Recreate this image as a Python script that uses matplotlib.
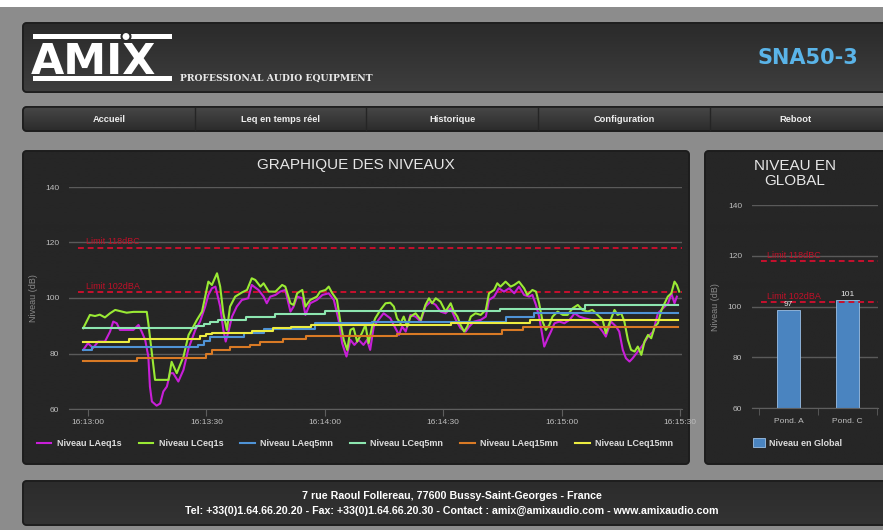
import numpy as np
import matplotlib
matplotlib.use("Agg")
import matplotlib.pyplot as plt
from matplotlib.patches import FancyBboxPatch, Rectangle, Circle

W, H = 883, 530
plt.rcParams['font.family'] = ['Liberation Sans', 'DejaVu Sans']

# ---- data (seconds after 16:13:00, level in dB) ----
t_laeq1s = [-1.2, 0.0, 1.3, 2.6, 4.3, 5.6, 6.4, 7.3, 8.1, 9.8, 11.5, 12.8, 13.6, 14.5, 15.3, 15.7,
            16.2, 17.4, 18.3, 19.1, 20.0, 20.8, 21.6, 22.9, 24.2, 25.5, 27.2, 28.4, 29.7, 30.5, 31.4,
            32.3, 33.5, 34.3, 34.9, 35.7, 36.5, 37.7, 39.0, 40.6, 41.5, 43.2, 44.5, 45.3, 46.2, 47.5,
            48.7, 50.0, 51.3, 52.1, 53.0, 54.3, 55.1, 56.3, 58.0, 59.4, 61.0, 62.3, 63.5, 64.4, 65.5,
            66.5, 67.5, 68.6, 69.8, 70.7, 71.5, 72.4, 73.6, 74.9, 76.6, 77.9, 78.8, 79.6, 80.5, 81.7,
            83.0, 84.3, 85.5, 86.8, 88.1, 89.3, 90.6, 91.9, 93.2, 94.4, 95.7, 96.6, 97.8, 99.5, 100.8,
            101.6, 102.9, 104.1, 105.4, 106.7, 108.0, 109.2, 110.5, 111.8, 112.6, 113.5, 114.3, 115.6,
            116.5, 117.3, 118.2, 119.4, 120.7, 122.0, 123.3, 124.5, 125.8, 127.5, 129.1, 130.4, 131.2,
            132.5, 133.8, 134.6, 135.5, 136.3, 137.2, 138.0, 139.3, 140.6, 141.9, 143.2, 144.4, 145.7,
            147.0, 147.8, 148.6, 149.2]
laeq1s = [81.3, 83.7, 82.0, 84.3, 84.3, 87.9, 91.5, 90.9, 88.5, 88.5, 88.5, 90.3, 87.9, 84.9, 78.9, 68.1,
          62.7, 61.2, 62.0, 66.3, 68.1, 72.9, 72.9, 69.9, 74.1, 81.9, 88.5, 91.5, 96.9, 101.1, 103.5,
          104.1, 96.9, 88.5, 84.3, 88.5, 93.3, 96.9, 99.3, 99.9, 104.7, 102.9, 100.5, 98.1, 100.5, 101.1,
          102.3, 102.9, 95.1, 96.9, 100.5, 99.9, 93.9, 98.1, 99.3, 101.1, 101.7, 99.3, 92.1, 83.7, 78.9,
          84.9, 83.1, 84.9, 83.1, 84.9, 81.3, 89.7, 92.1, 94.5, 92.7, 89.1, 86.7, 89.7, 87.9, 93.9,
          93.3, 91.5, 96.9, 98.7, 97.5, 95.1, 94.5, 96.3, 92.1, 89.1, 87.9, 89.7, 91.5, 92.1, 93.3,
          99.3, 100.5, 103.5, 102.3, 103.5, 101.7, 104.1, 101.1, 100.5, 101.1, 97.5, 93.3, 82.5,
          85.5, 87.9, 90.9, 91.5, 90.9, 92.1, 94.5, 93.3, 92.7, 92.1, 90.3, 87.9, 86.1,
          91.5, 89.7, 87.9, 81.3, 78.3, 77.1, 78.3, 80.7, 83.1, 86.1, 87.9, 94.5, 96.3,
          98.1, 101.7, 98.1, 100.5]

t_lceq1s = [-1.2, 0.5, 1.8, 3.0, 4.3, 5.6, 6.9, 8.1, 9.8, 11.5, 14.9, 15.3, 16.2, 17.0, 20.4, 21.2,
            22.5, 24.2, 25.5, 26.7, 27.6, 28.9, 29.7, 30.5, 31.4, 32.7, 33.5, 34.3, 35.2, 36.0, 37.3,
            39.0, 40.3, 41.5, 42.4, 43.7, 44.5, 45.8, 47.5, 49.2, 50.0, 51.3, 52.1, 53.0, 54.3, 55.1,
            56.3, 58.0, 58.8, 60.2, 61.0, 61.9, 63.1, 64.0, 64.8, 65.7, 66.5, 67.3, 68.2, 69.4, 70.3,
            71.1, 72.0, 72.8, 74.1, 75.4, 76.6, 77.5, 78.3, 79.2, 80.0, 80.9, 81.7, 83.0, 84.3, 85.5,
            86.4, 87.2, 88.1, 89.3, 90.6, 91.9, 92.7, 93.6, 94.4, 95.3, 96.1, 97.0, 98.2, 99.5, 100.8,
            101.6, 102.9, 103.7, 104.5, 105.8, 107.1, 108.0, 109.2, 110.5, 111.3, 112.6, 113.5, 114.3,
            115.2, 116.0, 116.9, 117.7, 119.0, 120.3, 121.5, 122.8, 124.1, 125.3, 126.6, 127.8, 129.1,
            130.4, 131.2, 132.1, 133.4, 134.2, 135.1, 135.9, 136.8, 137.6, 138.5, 139.3, 140.2, 141.0,
            141.9, 142.7, 143.6, 144.4, 145.3, 146.1, 146.9, 147.8, 148.6, 149.2, 149.8]
lceq1s = [89.1, 93.9, 93.5, 94.0, 93.0, 94.5, 95.7, 95.3, 94.7, 95.0, 95.0, 90.9, 80.0, 70.5, 70.5, 77.0,
          72.9, 78.9, 86.7, 89.7, 92.1, 95.1, 100.5, 105.9, 104.7, 108.9, 104.1, 94.5, 88.5, 96.9, 100.5,
          102.0, 102.9, 107.1, 106.5, 104.1, 105.3, 102.3, 102.3, 104.7, 104.1, 98.1, 97.5, 101.7, 102.9, 96.9,
          99.3, 100.5, 102.3, 102.9, 104.1, 101.7, 99.3, 90.9, 84.9, 81.3, 88.5, 89.1, 84.3, 87.3, 90.3,
          83.7, 89.7, 92.7, 95.7, 98.1, 98.3, 96.9, 92.7, 90.9, 93.3, 89.7, 93.3, 94.5, 92.1, 97.5,
          99.9, 98.1, 99.9, 98.7, 95.1, 98.1, 95.1, 93.3, 90.3, 87.9, 89.7, 93.3, 94.5, 93.9, 95.7,
          101.7, 102.9, 105.3, 104.1, 105.9, 104.1, 104.7, 105.9, 103.5, 101.1, 102.9, 102.3, 98.1,
          91.5, 88.5, 90.3, 93.3, 95.1, 93.9, 93.9, 96.3, 97.5, 95.7, 95.1, 95.7, 93.9,
          92.1, 87.3, 90.9, 95.7, 93.9, 94.5, 91.5, 84.9, 81.3, 80.7, 82.5, 79.5, 84.3,
          86.7, 85.5, 89.7, 90.9, 95.7, 98.1, 100.5, 101.7, 105.9, 104.7, 102.3]

# running averages: time of each step and new level
t_laeq5mn = [-1.2, 1.0, 28.0, 29.5, 31.0, 39.5, 44.5, 57.5, 72.0, 106.0, 113.0]
laeq5mn = [81.3, 82.2, 83.1, 84.5, 86.1, 87.3, 88.7, 91.1, 91.5, 93.1, 94.5]

t_lceq5mn = [-1.2, 27.5, 29.5, 31.0, 33.0, 40.0, 47.5, 60.0, 104.5, 126.0]
lceq5mn = [89.1, 89.9, 90.7, 91.5, 92.1, 93.3, 94.4, 95.2, 96.2, 97.3]

t_laeq15mn = [-1.2, 12.5, 30.0, 31.5, 36.0, 41.0, 43.6, 49.3, 55.2, 78.2, 104.8, 110.3]
laeq15mn = [77.3, 78.3, 79.8, 81.3, 82.3, 83.1, 84.1, 85.2, 86.2, 87.0, 88.5, 89.5]

t_lceq15mn = [-1.2, 10.3, 28.5, 30.0, 31.5, 41.5, 46.8, 51.5, 56.5, 92.0, 112.0]
lceq15mn = [84.3, 85.1, 86.2, 86.9, 87.3, 88.2, 89.1, 89.7, 90.3, 91.1, 92.1]
t_end = 149.5

series_names = ['Niveau LAeq1s', 'Niveau LCeq1s', 'Niveau LAeq5mn',
                'Niveau LCeq5mn', 'Niveau LAeq15mn', 'Niveau LCeq15mn']
series_colors = ['#c81fd8', '#9aea34', '#4f93d6', '#8de6b0', '#d97a25', '#ecec40']

x_ticks = [0, 30, 60, 90, 120, 150]
x_tick_labels = ['16:13:00', '16:13:30', '16:14:00', '16:14:30', '16:15:00', '16:15:30']
y_ticks = [60, 80, 100, 120, 140]

limits = [118, 102]
limit_labels = ['Limit 118dBC', 'Limit 102dBA']

bar_categories = ['Pond. A', 'Pond. C']
bar_values = [98.8, 102.8]
bar_labels = ['97', '101']

nav_items = ['Accueil', 'Leq en temps réel', 'Historique', 'Configuration', 'Reboot']

# ---- figure / page background ----
fig = plt.figure(figsize=(W / 100, H / 100), dpi=100)
fig.patch.set_facecolor('#8c8c8c')

bg = fig.add_axes([0, 0, 1, 1])
bg.axis('off')
bg.add_patch(Rectangle((0, 0), W, 7, fc='white', ec='none'))


def panel(x0, y0, x1, y1, c_top, c_bot, r=4):
    p = FancyBboxPatch((x0, y0), x1 - x0, y1 - y0,
                       boxstyle=f"round,pad=0,rounding_size={r}",
                       fc=c_bot, ec='#1c1c1c', lw=1.2, zorder=1)
    bg.add_patch(p)
    a = np.array(matplotlib.colors.to_rgb(c_top))
    b = np.array(matplotlib.colors.to_rgb(c_bot))
    f = np.linspace(0, 1, 64)[:, None, None]
    img = a * (1 - f) + b * f
    im = bg.imshow(img, extent=(x0, x1, y1, y0), aspect='auto',
                   interpolation='bilinear', zorder=1.1)
    im.set_clip_path(p)
    bg.add_patch(FancyBboxPatch((x0, y0), x1 - x0, y1 - y0,
                                boxstyle=f"round,pad=0,rounding_size={r}",
                                fc='none', ec='#1c1c1c', lw=1.2, zorder=1.2))


panel(23, 23, 890, 92, '#2a2a2a', '#3e3e3e')      # header
panel(23, 107, 890, 131, '#474747', '#2b2b2b')    # menu
panel(23, 151, 689, 464, '#262626', '#262626')    # line chart
panel(705, 151, 890, 464, '#262626', '#262626')   # bar chart
panel(23, 481, 890, 525, '#2c2c2c', '#333333')    # footer

# logo
bg.add_patch(Rectangle((33, 34), 139, 5, fc='white', ec='none', zorder=2))
bg.add_patch(Rectangle((33, 76), 139, 5, fc='white', ec='none', zorder=2))
bg.add_patch(Circle((126, 36.5), 4.5, fc='white', ec='#2a2a2a', lw=1.5, zorder=2.1))
bg.text(31, 73.5, 'AMIX', fontsize=31, fontweight='bold', family='DejaVu Sans',
        color='white', va='baseline', ha='left', zorder=2)
bg.text(180, 81, 'PROFESSIONAL AUDIO EQUIPMENT', fontsize=6.7, fontweight='bold',
        family='DejaVu Serif', color='#e8e8e8', va='baseline', ha='left', zorder=2)
bg.text(858, 64, 'SNA50-3', fontsize=15, fontweight='bold', family='DejaVu Sans',
        color='#5ab4e8', va='baseline', ha='right', zorder=2)

# menu
for i, item in enumerate(nav_items):
    cx = 109 + i * 171.7
    bg.text(cx, 119.5, item, fontsize=6.7, fontweight='bold', color='#eeeeee',
            ha='center', va='center', zorder=2)
    if i > 0:
        bg.plot([cx - 86, cx - 86], [108, 130], color='#252525', lw=1, zorder=2)

# panel titles
bg.text(356, 165, 'GRAPHIQUE DES NIVEAUX', fontsize=11, color='#e6e6e6',
        ha='center', va='center', zorder=2)
bg.text(795, 173.5, 'NIVEAU EN\nGLOBAL', fontsize=11, color='#e6e6e6',
        ha='center', va='center', linespacing=1.05, zorder=2)

# footer
bg.text(452, 496, '7 rue Raoul Follereau, 77600 Bussy-Saint-Georges - France',
        fontsize=7.7, fontweight='bold', color='white', ha='center', va='center', zorder=2)
bg.text(452, 511, 'Tel: +33(0)1.64.66.20.20 - Fax: +33(0)1.64.66.20.30 - Contact : '
        'amix@amixaudio.com - www.amixaudio.com',
        fontsize=7.7, fontweight='bold', color='white', ha='center', va='center', zorder=2)

bg.set_xlim(0, W)
bg.set_ylim(H, 0)

# ---- line chart ----
ax = fig.add_axes([69 / W, 1 - 409 / H, (682 - 69) / W, (409 - 187) / H])
ax.set_facecolor('none')
ax.set_xlim(-4.8, 150.5)
ax.set_ylim(60, 140)
for s in ['top', 'right', 'left']:
    ax.spines[s].set_visible(False)
ax.spines['bottom'].set_color('#5e5e5e')
ax.set_yticks(y_ticks)
ax.yaxis.grid(True, color='#5a5a5a', lw=1)
ax.set_axisbelow(True)
ax.set_xticks(x_ticks)
ax.set_xticklabels(x_tick_labels)
ax.tick_params(axis='y', length=0, labelsize=6, labelcolor='#bdbdbd', pad=7)
ax.tick_params(axis='x', length=5, color='#5e5e5e', labelsize=6, labelcolor='#bdbdbd', pad=2)
ax.set_ylabel('Niveau (dB)', fontsize=6.5, color='#8a8a8a')
ax.yaxis.set_label_coords((38 - 69) / 613, 0.5)

for lim, lab in zip(limits, limit_labels):
    ax.hlines(lim, -2.5, 150.5, colors='#c8102e', linestyles=(0, (3, 2)), lw=1.4)
    ax.text(-0.5, lim + 0.7, lab, fontsize=6.5, color='#c01028', va='bottom', ha='left')

lw = 1.5
ax.plot(t_laeq1s, laeq1s, color=series_colors[0], lw=lw, label=series_names[0])
ax.plot(t_lceq1s, lceq1s, color=series_colors[1], lw=lw, label=series_names[1])
step_series = [(t_laeq5mn, laeq5mn), (t_lceq5mn, lceq5mn),
               (t_laeq15mn, laeq15mn), (t_lceq15mn, lceq15mn)]
for k, (tt, vv) in enumerate(step_series):
    ax.plot(tt + [t_end], vv + [vv[-1]], drawstyle='steps-post',
            color=series_colors[k + 2], lw=lw, label=series_names[k + 2])

leg = ax.legend(loc='center', bbox_to_anchor=(355 / W, 1 - 444 / H),
                bbox_transform=fig.transFigure, ncol=6, frameon=False,
                fontsize=6.5, handlelength=1.6, columnspacing=1.9, handletextpad=0.6)
for txt in leg.get_texts():
    txt.set_color('#dddddd')
    txt.set_fontweight('bold')

# ---- bar chart ----
ax2 = fig.add_axes([751.7 / W, 1 - 408.3 / H, (878 - 751.7) / W, (408.3 - 205) / H])
ax2.set_facecolor('none')
ax2.set_xlim(-0.626, 1.517)
ax2.set_ylim(60, 140)
for s in ['top', 'right', 'left']:
    ax2.spines[s].set_visible(False)
ax2.spines['bottom'].set_color('#5e5e5e')
ax2.set_yticks(y_ticks)
ax2.yaxis.grid(True, color='#5a5a5a', lw=1)
ax2.set_axisbelow(True)
ax2.set_xticks([-0.5, 0.5, 1.5], minor=True)
ax2.set_xticks(range(len(bar_categories)))
ax2.set_xticklabels(bar_categories)
ax2.tick_params(axis='x', which='major', length=0, labelsize=6, labelcolor='#bdbdbd', pad=7)
ax2.tick_params(axis='x', which='minor', length=5, color='#5e5e5e')
ax2.tick_params(axis='y', length=0, labelsize=6, labelcolor='#bdbdbd', pad=7)
ax2.set_ylabel('Niveau (dB)', fontsize=6.5, color='#8a8a8a')
ax2.yaxis.set_label_coords((720 - 751.7) / 126.3, 0.5)

bars = ax2.bar(range(len(bar_values)), [v - 60 for v in bar_values], bottom=60, width=0.4,
               color='#4a84c0', edgecolor='#9cc0e6', lw=0.6, label='Niveau en Global', zorder=2)
for i, (v, lab) in enumerate(zip(bar_values, bar_labels)):
    ax2.text(i, v + 0.6, lab, fontsize=6, color='#e8e8e8', ha='center', va='bottom', zorder=4)

for lim, lab in zip(limits, limit_labels):
    ax2.hlines(lim, -0.466, 1.517, colors='#c8102e', linestyles=(0, (3, 2)), lw=1.4, zorder=3)
    ax2.text(-0.36, lim + 0.4, lab, fontsize=6.5, color='#c01028', va='bottom', ha='left', zorder=3)

leg2 = ax2.legend(loc='center left', bbox_to_anchor=(745 / W, 1 - 443 / H),
                  bbox_transform=fig.transFigure, frameon=False, fontsize=6.5,
                  handlelength=1.3, handleheight=1.1, handletextpad=0.5)
for txt in leg2.get_texts():
    txt.set_color('#dddddd')
    txt.set_fontweight('bold')

fig.savefig('out.png', dpi=100, facecolor=fig.get_facecolor())
